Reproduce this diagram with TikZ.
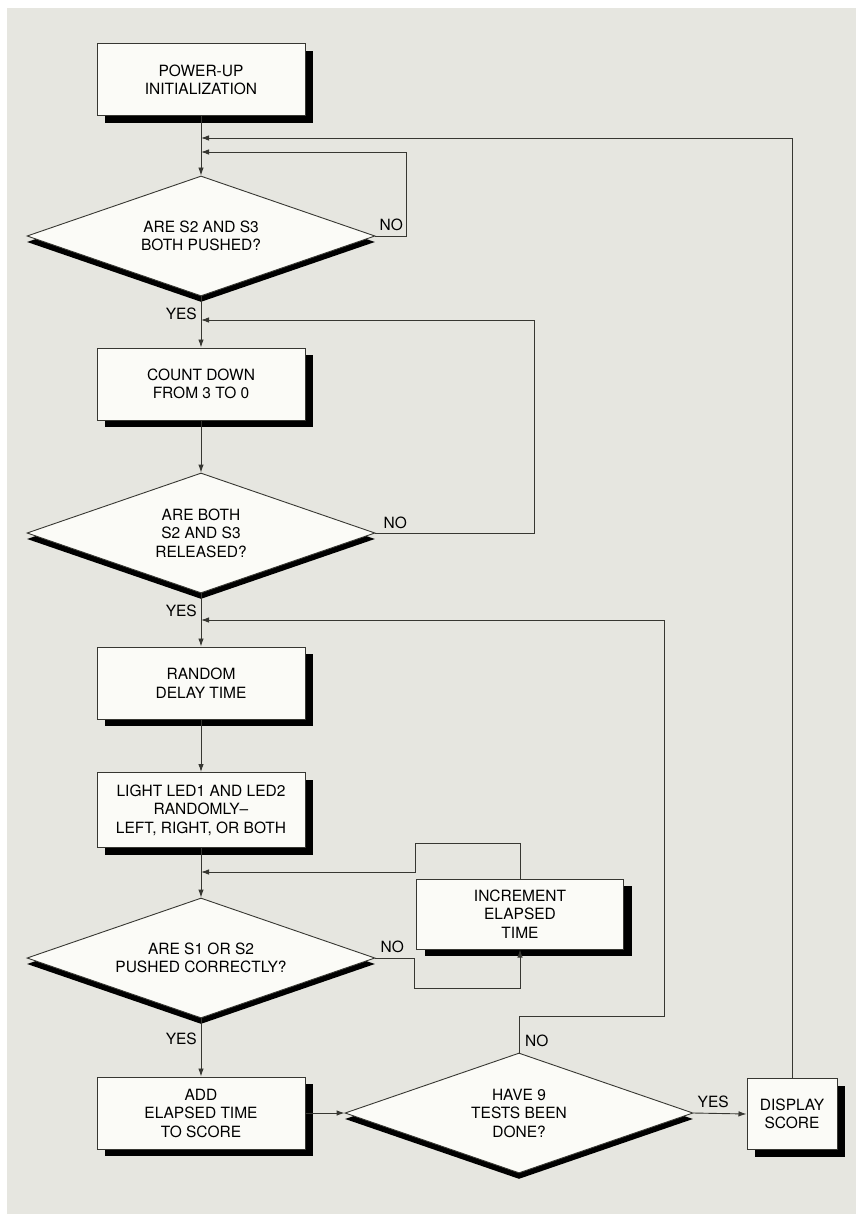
\documentclass[tikz,border=0pt]{standalone}
\usepackage{fontspec}
\setmainfont{TeX Gyre Heros}
\usepackage{xcolor}
\usepackage{tikz}
\usetikzlibrary{shapes.geometric, arrows.meta, positioning, shadows, calc}

\definecolor{carta}{RGB}{230,230,224}
\definecolor{bianco}{RGB}{251,251,247}
\definecolor{tratto}{RGB}{55,55,50}

\begin{document}
\begin{tikzpicture}[x=1pt,y=-1pt,
    font=\fontsize{15.5}{18.5}\selectfont,
    blocco/.style={rectangle,draw=tratto,line width=1pt,fill=bianco,minimum width=208pt,minimum height=72pt,align=center,inner sep=2pt,
        drop shadow={shadow xshift=8pt,shadow yshift=-7pt,fill=black,opacity=1}},
    rombo/.style={diamond,aspect=2.9,draw=tratto,line width=0.9pt,fill=bianco,minimum width=348pt,minimum height=120pt,inner sep=0pt,align=center,
        drop shadow={shadow xshift=0pt,shadow yshift=-6pt,fill=black,opacity=1}},
    freccia/.style={draw=tratto,line width=0.9pt,-{Latex[length=8pt,width=5.5pt]}},
    etich/.style={inner sep=0pt}]

    % Sfondo
    \useasboundingbox (0,0) rectangle (855,1214);
    \fill[white] (-20,-20) rectangle (880,1240);
    \fill[carta] (7,8) rectangle (880,1240);

    % Colonna principale
    \node[blocco] (init) at (201,80) {POWER-UP\\INITIALIZATION};
    \node[rombo] (d1) at (201,236) {ARE S2 AND S3\\BOTH PUSHED?};
    \node[blocco] (conta) at (201,384) {COUNT DOWN\\FROM 3 TO 0};
    \node[rombo] (d2) at (201,533) {ARE BOTH\\S2 AND S3\\RELEASED?};
    \node[blocco] (ritardo) at (201,683) {RANDOM\\DELAY TIME};
    \node[blocco,minimum height=75pt] (led) at (201,810) {LIGHT LED1 AND LED2\\RANDOMLY--\\LEFT, RIGHT, OR BOTH};
    \node[rombo] (d3) at (201,958) {ARE S1 OR S2\\PUSHED CORRECTLY?};
    \node[blocco] (somma) at (201,1113) {ADD\\ELAPSED TIME\\TO SCORE};

    % Colonna destra
    \node[blocco,minimum width=207pt,minimum height=70pt] (incr) at (520,914) {INCREMENT\\ELAPSED\\TIME};
    \node[rombo] (d4) at (519,1113) {HAVE 9\\TESTS BEEN\\DONE?};
    \node[blocco,minimum width=90pt,minimum height=71pt] (mostra) at (792,1114) {DISPLAY\\SCORE};

    % Punti di ingresso
    \coordinate (m1) at (201,138);
    \coordinate (m2) at (201,152);
    \coordinate (m3) at (201,320);
    \coordinate (m4) at (201,620);
    \coordinate (m5) at (201,872);

    % Frecce
    \draw[freccia] (init.south) -- (d1.north);
    \draw[freccia] (d1.south) -- (conta.north);
    \draw[freccia] (conta.south) -- (d2.north);
    \draw[freccia] (d2.south) -- (ritardo.north);
    \draw[freccia] (ritardo.south) -- (led.north);
    \draw[freccia] (led.south) -- (d3.north);
    \draw[freccia] (d3.south) -- (somma.north);
    \draw[freccia] (somma.east) -- (d4.west);
    \draw[freccia] (d4.east) -- (mostra.west);

    % Anelli di ritorno
    \draw[freccia] (d1.east) -- ++(31,0) |- (m2);
    \draw[freccia] (d2.east) -- ++(159,0) |- (m3);
    \draw[freccia] (d3.east) -- ++(39,0) -- ++(0,30) -| (incr.south);
    \draw[freccia] (incr.north) -- ++(0,-35) -- ++(-105,0) |- (m5);
    \draw[freccia] (d4.north) -- ++(0,-36) -- ++(145,0) |- (m4);
    \draw[freccia] (mostra.north) |- (m1);

    % Etichette
    \node[etich,above right=5pt and 4pt of d1.east] (no1) {NO};
    \node[etich,below left=11pt and 4pt of d1.south] (si1) {YES};
    \node[etich,above right=4pt and 8pt of d2.east] (no2) {NO};
    \node[etich,below left=11pt and 4pt of d2.south] (si2) {YES};
    \node[etich,above right=5pt and 5pt of d3.east] (no3) {NO};
    \node[etich,below left=14pt and 4pt of d3.south] (si3) {YES};
    \node[etich,above right=6pt and 6pt of d4.north] (no4) {NO};
    \node[etich,above right=5pt and 4pt of d4.east] (si4) {YES};
\end{tikzpicture}
\end{document}
